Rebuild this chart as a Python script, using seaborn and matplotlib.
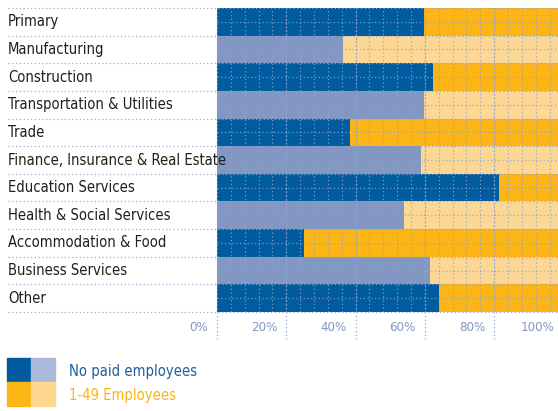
import pandas as pd
import seaborn as sns
import matplotlib.pyplot as plt
from matplotlib.patches import Rectangle

# sectors and share of businesses with no paid employees (%)
sectors = ['Primary', 'Manufacturing', 'Construction', 'Transportation & Utilities',
           'Trade', 'Finance, Insurance & Real Estate', 'Education Services',
           'Health & Social Services', 'Accommodation & Food', 'Business Services', 'Other']
no_paid = [59.7, 36.4, 62.3, 59.7, 38.4, 58.9, 81.4, 54.0, 25.1, 61.5, 64.2]
total = [100] * len(sectors)
ticks = [0, 20, 40, 60, 80, 100]
tick_labels = ['0%', '20%', '40%', '60%', '80%', '100%']

df = pd.DataFrame({'sector': sectors, 'no_paid': no_paid, 'total': total})

dark_blue = '#005b9f'
light_blue = '#8297c2'
orange = '#fdb515'
light_orange = '#fdd894'
grid_col = '#8fa2cf'

blue_pal = {s: (dark_blue if i % 2 == 0 else light_blue) for i, s in enumerate(sectors)}
orange_pal = {s: (orange if i % 2 == 0 else light_orange) for i, s in enumerate(sectors)}

sns.set_style('white')
plt.rcParams['font.family'] = ['DejaVu Sans']
plt.rcParams['font.stretch'] = 'condensed'

fig = plt.figure(figsize=(5.58, 4.11), dpi=100)
ax = fig.add_axes([217 / 558, 1 - 312 / 411, 341 / 558, 304 / 411])

sns.barplot(data=df, y='sector', x='total', hue='sector', palette=orange_pal,
            width=1, legend=False, ax=ax, saturation=1, linewidth=0)
sns.barplot(data=df, y='sector', x='no_paid', hue='sector', palette=blue_pal,
            width=1, legend=False, ax=ax, saturation=1, linewidth=0)

n = len(sectors)
ax.set_xlim(0, 341 / 3.465)
ax.set_ylim(n - 0.5, -0.5)
ax.set_xlabel('')
ax.set_ylabel('')
ax.set_xticks([])
ax.set_yticks([])
for sp in ax.spines.values():
    sp.set_visible(False)

# dotted grid on top of bars
for x in range(4, 100, 4):
    ax.axvline(x, color=grid_col, lw=0.9, ls=(0, (1, 2)), alpha=0.85, zorder=3)
for i in range(n):
    ax.axhline(i, color=grid_col, lw=0.9, ls=(0, (1, 2)), alpha=0.85, zorder=3)
for i in range(n + 1):
    ax.plot([-217 / 3.465 + 8 / 3.465, 100], [i - 0.5, i - 0.5], color=grid_col,
            lw=0.9, ls=(0, (1, 2)), alpha=0.9, zorder=3, clip_on=False)
for x in ticks:
    ax.plot([x, x], [-0.5, n + 0.5], color=grid_col, lw=0.9, ls=(0, (1, 2)),
            alpha=0.9, zorder=3, clip_on=False)

for x, lab in zip(ticks, tick_labels):
    ax.annotate(lab, (x, n + 0.05), xytext=(-6.5, 0), textcoords='offset points',
                ha='right', va='center', color='#8297c2', fontsize=9.5,
                annotation_clip=False)

for i, s in enumerate(sectors):
    fig.text(8 / 558, 1 - (8 + 27.64 * (i + 0.5)) / 411, s, ha='left', va='center',
             fontsize=10.6, color='#231f20')

# legend
sq = 24 / 411
for (cx, cy, c) in [(7, 358, dark_blue), (31, 358, '#aab9d9'),
                    (7, 382, orange), (31, 382, '#fed88f')]:
    fig.add_artist(Rectangle((cx / 558, 1 - (cy + 24) / 411), 24 / 558, sq,
                             color=c, transform=fig.transFigure))
fig.text(69 / 558, 1 - 371 / 411, 'No paid employees', color='#1f5f9c',
         fontsize=10.6, va='center', ha='left')
fig.text(69 / 558, 1 - 395 / 411, '1-49 Employees', color=orange,
         fontsize=10.6, va='center', ha='left')

fig.savefig('out.png', dpi=100)
